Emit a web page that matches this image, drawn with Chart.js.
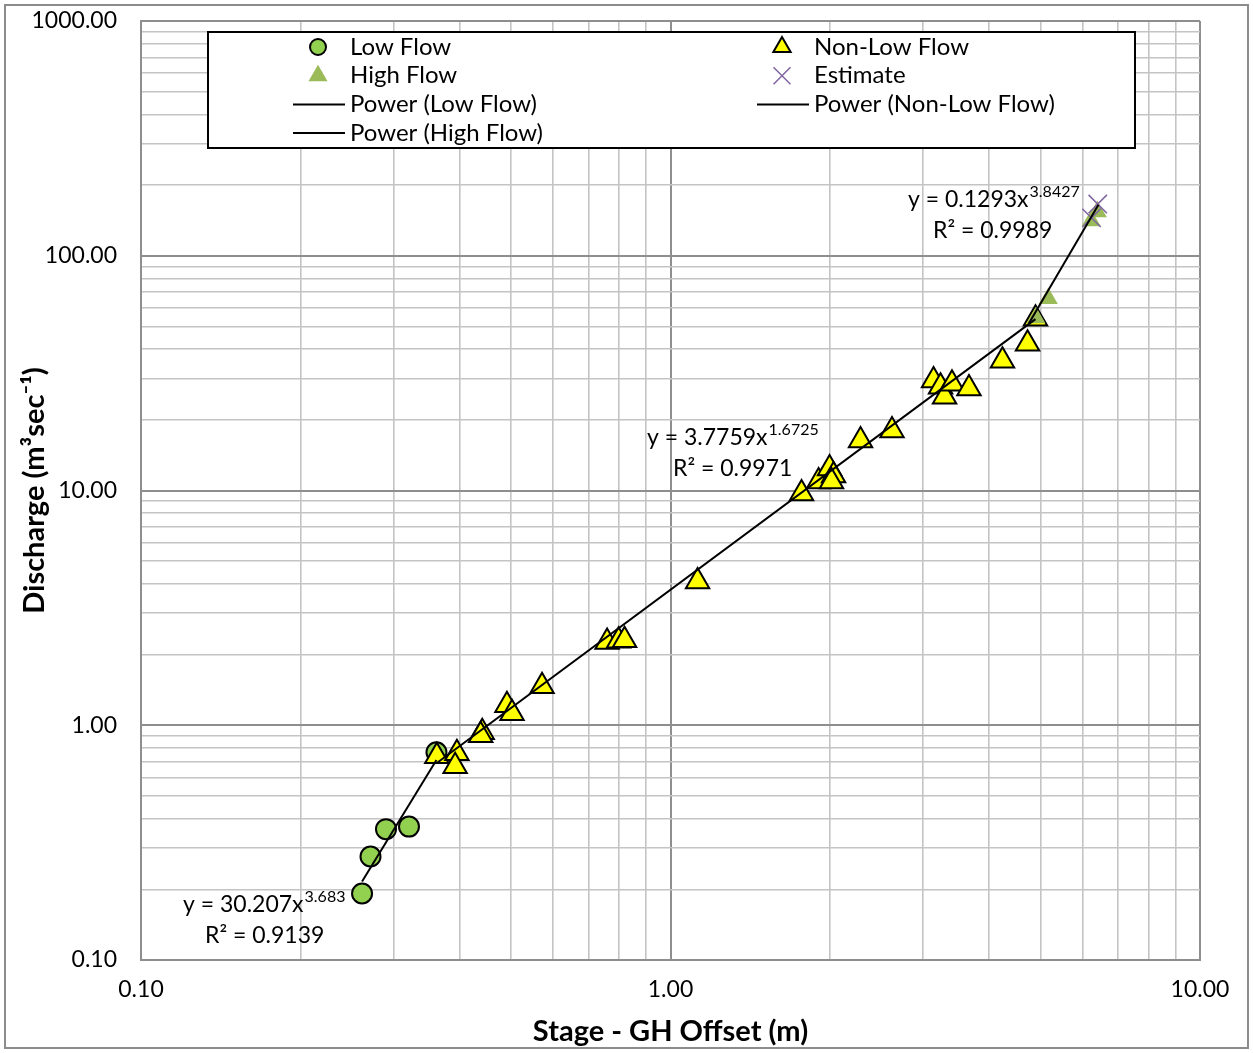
<!DOCTYPE html>
<html>
<head>
<meta charset="utf-8">
<script src="https://cdn.jsdelivr.net/npm/chart.js@4.4.0/dist/chart.umd.min.js"></script>
<style>
  html, body { margin: 0; padding: 0; background: #fff; }
  canvas { display: block; }
</style>
</head>
<body>
<canvas id="ratingChart" width="1253" height="1053"></canvas>
<script>
// rating curve data
const lowFlowX = [0.2615, 0.2713, 0.2902, 0.3207, 0.3614];
const lowFlowY = [0.192, 0.276, 0.361, 0.370, 0.767];

const nonLowFlowX = [0.362, 0.395, 0.392, 0.441, 0.438, 0.491, 0.502, 0.572, 0.759, 0.798, 0.819, 1.125,
  1.768, 1.904, 1.997, 2.032, 2.014, 2.285, 2.620, 3.139, 3.236, 3.293, 3.401, 3.662, 4.236, 4.724, 4.890];
const nonLowFlowY = [0.738, 0.760, 0.669, 0.934, 0.907, 1.216, 1.125, 1.466, 2.26, 2.29, 2.30, 4.10,
  9.71, 10.92, 12.41, 11.58, 10.92, 16.32, 18.00, 29.4, 27.7, 25.1, 28.5, 27.2, 35.7, 42.2, 53.9];

const highFlowX = [4.90, 5.17, 6.23, 6.40];
const highFlowY = [54.5, 65.8, 141, 154];

const estimateX = [6.24, 6.41];
const estimateY = [145, 166];

// fitted power trendlines (end points)
const lowTrendX = [0.2615, 0.3614];
const lowTrendY = [0.216, 0.711];
const nonLowTrendX = [0.362, 4.89];
const nonLowTrendY = [0.691, 53.7];
const highTrendX = [4.75, 6.43];
const highTrendY = [51.5, 165];

const xTickValues = [0.1, 1, 10];
const xTickLabels = ['0.10', '1.00', '10.00'];
const yTickValues = [0.1, 1, 10, 100, 1000];
const yTickLabels = ['0.10', '1.00', '10.00', '100.00', '1000.00'];

const equations = [
  { eq: 'y = 30.207x', pow: '3.683', r2: 'R\u00b2 = 0.9139', x: 183, y: 905, rx: 205, ry: 936 },
  { eq: 'y = 3.7759x', pow: '1.6725', r2: 'R\u00b2 = 0.9971', x: 647, y: 438, rx: 673, ry: 469 },
  { eq: 'y = 0.1293x', pow: '3.8427', r2: 'R\u00b2 = 0.9989', x: 908, y: 200, rx: 933, ry: 231 }
];

const FONT = 'Lato, "Open Sans", sans-serif';

function pairs(xs, ys) {
  return xs.map((x, i) => ({ x: x, y: ys[i] }));
}

function isDecade(v) {
  const l = Math.log10(v);
  return Math.abs(l - Math.round(l)) < 1e-9;
}

function gridValues(minExp, maxExp) {
  const vals = [];
  for (let e = minExp; e < maxExp; e++) {
    for (let m = 1; m < 10; m++) vals.push(Number((m * Math.pow(10, e)).toPrecision(6)));
  }
  vals.push(Math.pow(10, maxExp));
  return vals;
}

function labelFor(values, labels, v) {
  const i = values.findIndex(t => Math.abs(t - v) / t < 1e-6);
  return i >= 0 ? labels[i] : '';
}

// small marker painter used by the hand drawn legend
function drawMarker(ctx, style, x, y, r, fill, stroke, lw) {
  ctx.save();
  ctx.beginPath();
  if (style === 'circle') {
    ctx.arc(x, y, r, 0, Math.PI * 2);
  } else if (style === 'triangle') {
    ctx.moveTo(x, y - r);
    ctx.lineTo(x + r * 0.866, y + r * 0.5);
    ctx.lineTo(x - r * 0.866, y + r * 0.5);
    ctx.closePath();
  } else if (style === 'crossRot') {
    const d = r * 0.707;
    ctx.moveTo(x - d, y - d); ctx.lineTo(x + d, y + d);
    ctx.moveTo(x + d, y - d); ctx.lineTo(x - d, y + d);
  }
  if (style !== 'crossRot' && fill) { ctx.fillStyle = fill; ctx.fill(); }
  if (lw > 0) { ctx.strokeStyle = stroke; ctx.lineWidth = lw; ctx.stroke(); }
  ctx.restore();
}

const chartDecor = {
  id: 'chartDecor',
  beforeDraw(chart) {
    const ctx = chart.ctx;
    ctx.save();
    ctx.fillStyle = '#fff';
    ctx.fillRect(0, 0, chart.width, chart.height);
    ctx.strokeStyle = '#8c8c8c';
    ctx.lineWidth = 2;
    ctx.strokeRect(5, 5, chart.width - 10, chart.height - 10);
    ctx.restore();
  },
  afterDraw(chart) {
    const ctx = chart.ctx;
    ctx.save();

    // legend box
    ctx.fillStyle = '#fff';
    ctx.fillRect(208, 32, 927, 116);
    ctx.strokeStyle = '#000';
    ctx.lineWidth = 2;
    ctx.strokeRect(208, 32, 927, 116);

    const markerX = [318, 782];
    const textX = [350, 814];
    ctx.font = '24px ' + FONT;
    ctx.textBaseline = 'middle';
    ctx.textAlign = 'left';
    chart.data.datasets.forEach((ds, i) => {
      const col = i % 2;
      const y = 47 + Math.floor(i / 2) * 28.7;
      const mx = markerX[col];
      if (ds.showLine) {
        ctx.beginPath();
        ctx.moveTo(mx - 25, y);
        ctx.lineTo(mx + 27, y);
        ctx.strokeStyle = ds.borderColor;
        ctx.lineWidth = 2;
        ctx.stroke();
      } else {
        drawMarker(ctx, ds.pointStyle, mx, y, ds.legendRadius, ds.backgroundColor,
          ds.borderColor, ds.pointBorderWidth);
      }
      ctx.fillStyle = '#000';
      ctx.fillText(ds.label, textX[col], y);
    });

    // trendline equations
    equations.forEach(e => {
      ctx.font = '23px ' + FONT;
      ctx.fillStyle = '#000';
      ctx.fillText(e.eq, e.x, e.y);
      const w = ctx.measureText(e.eq).width;
      ctx.font = '16px ' + FONT;
      ctx.fillText(e.pow, e.x + w + 1, e.y - 8);
      ctx.font = '23px ' + FONT;
      ctx.fillText(e.r2, e.rx, e.ry);
    });
    ctx.restore();
  }
};

const xGrid = gridValues(-1, 1);
const yGrid = gridValues(-1, 3);

function gridColor(c) {
  return c.tick && isDecade(c.tick.value) ? '#8e8e8e' : '#c4c4c4';
}
function gridWidth(c) {
  return c.tick && isDecade(c.tick.value) ? 2 : 1.6;
}

new Chart(document.getElementById('ratingChart'), {
  type: 'scatter',
  data: {
    datasets: [
      {
        label: 'Low Flow', data: pairs(lowFlowX, lowFlowY), order: 6,
        pointStyle: 'circle', pointRadius: 10, legendRadius: 8,
        backgroundColor: '#92d050', borderColor: '#000', pointBorderWidth: 2, borderWidth: 2
      },
      {
        label: 'Non-Low Flow', data: pairs(nonLowFlowX, nonLowFlowY), order: 5,
        pointStyle: 'triangle', pointRadius: 13.5, legendRadius: 10,
        backgroundColor: '#ffff00', borderColor: '#000', pointBorderWidth: 2, borderWidth: 2
      },
      {
        label: 'High Flow', data: pairs(highFlowX, highFlowY), order: 4,
        pointStyle: 'triangle', pointRadius: 11, legendRadius: 11,
        backgroundColor: '#9bbb59', borderColor: '#9bbb59', pointBorderWidth: 0, borderWidth: 0
      },
      {
        label: 'Estimate', data: pairs(estimateX, estimateY), order: 3,
        pointStyle: 'crossRot', pointRadius: 13, legendRadius: 12,
        backgroundColor: '#8064a2', borderColor: '#8064a2', pointBorderWidth: 1.5, borderWidth: 1.5
      },
      {
        label: 'Power (Low Flow)', data: pairs(lowTrendX, lowTrendY), order: 0,
        showLine: true, pointRadius: 0, borderColor: '#000', borderWidth: 2
      },
      {
        label: 'Power (Non-Low Flow)', data: pairs(nonLowTrendX, nonLowTrendY), order: 1,
        showLine: true, pointRadius: 0, borderColor: '#000', borderWidth: 2
      },
      {
        label: 'Power (High Flow)', data: pairs(highTrendX, highTrendY), order: 2,
        showLine: true, pointRadius: 0, borderColor: '#000', borderWidth: 2
      }
    ]
  },
  options: {
    responsive: false,
    animation: false,
    devicePixelRatio: 1,
    layout: { padding: { left: 0, top: 21, right: 53, bottom: 0 } },
    plugins: {
      legend: { display: false },
      tooltip: { enabled: false }
    },
    scales: {
      x: {
        type: 'logarithmic',
        position: 'bottom',
        min: 0.1,
        max: 10,
        afterBuildTicks: s => { s.ticks = xGrid.map(v => ({ value: v })); },
        afterFit: s => { s.height = 93; s.paddingLeft = 0; s.paddingRight = 0; },
        ticks: {
          autoSkip: false,
          maxRotation: 0,
          padding: 16,
          color: '#000',
          font: { family: FONT, size: 23 },
          callback: v => labelFor(xTickValues, xTickLabels, v)
        },
        grid: { drawTicks: false, color: gridColor, lineWidth: gridWidth },
        border: { display: true, color: '#8e8e8e', width: 2 },
        title: {
          display: true,
          text: 'Stage - GH Offset (m)',
          color: '#000',
          font: { family: FONT, size: 29, weight: 'bold' },
          padding: { top: 0, bottom: 4 }
        }
      },
      y: {
        type: 'logarithmic',
        position: 'left',
        min: 0.1,
        max: 1000,
        afterBuildTicks: s => { s.ticks = yGrid.map(v => ({ value: v })); },
        afterFit: s => { s.width = 141; s.paddingTop = 0; s.paddingBottom = 0; },
        ticks: {
          autoSkip: false,
          padding: 24,
          color: '#000',
          font: { family: FONT, size: 23 },
          callback: v => labelFor(yTickValues, yTickLabels, v)
        },
        grid: { drawTicks: false, color: gridColor, lineWidth: gridWidth },
        border: { display: true, color: '#8e8e8e', width: 2 },
        title: {
          display: true,
          text: 'Discharge (m\u00b3sec\u207b\u00b9)',
          color: '#000',
          font: { family: FONT, size: 29, weight: 'bold' },
          padding: { top: 17, bottom: 0 }
        }
      }
    }
  },
  plugins: [chartDecor]
});
</script>
</body>
</html>
